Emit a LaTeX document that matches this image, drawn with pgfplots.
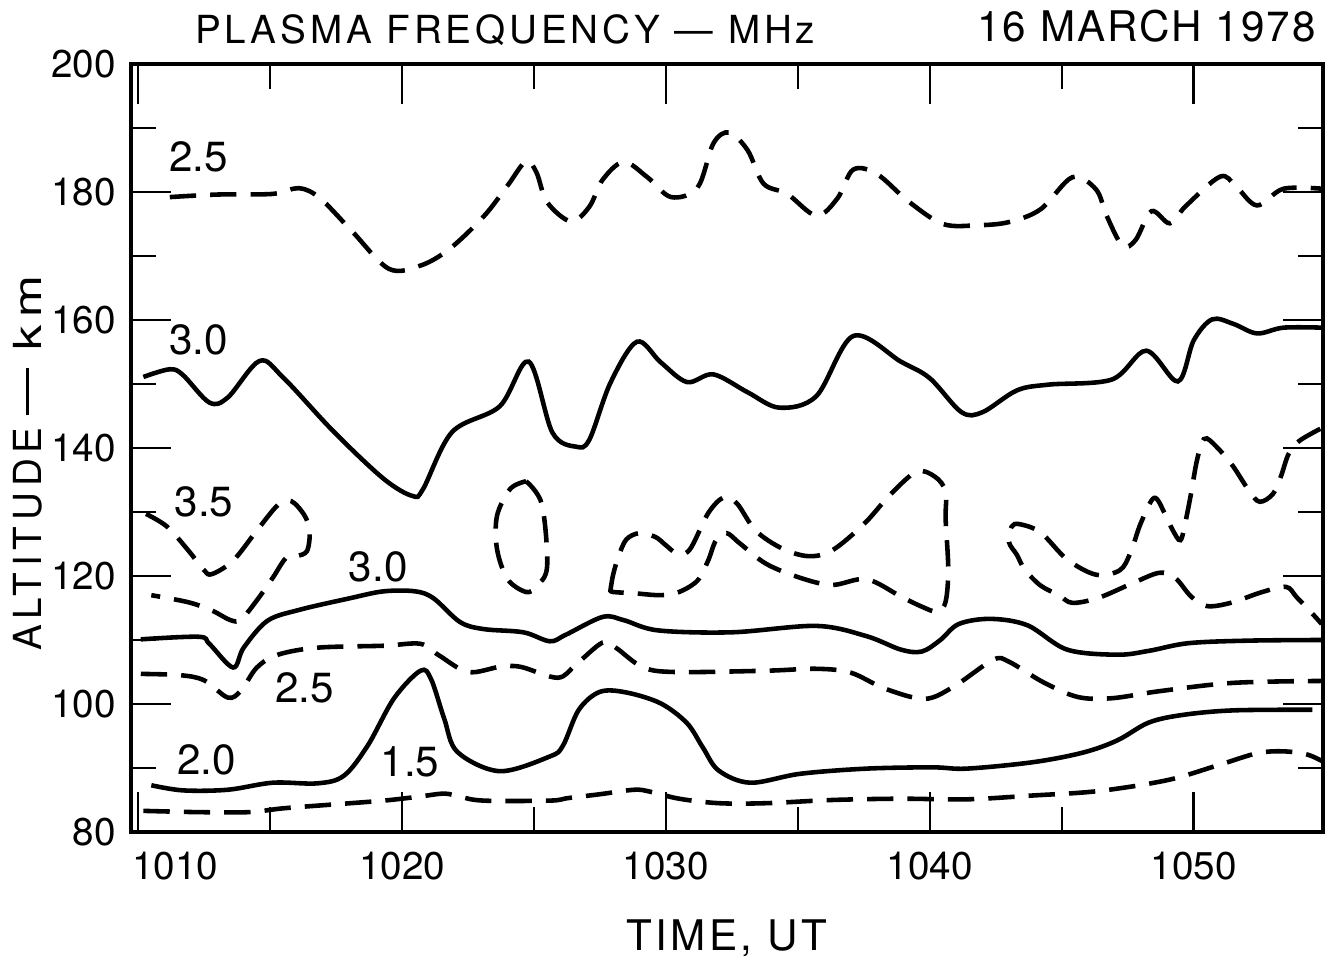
\documentclass[border=0pt]{standalone}
\usepackage{fontspec}
\setmainfont{TeX Gyre Heros}
\usepackage{graphicx}
\usepackage{pgfplots}
\pgfplotsset{compat=1.18}

% contour line styles
\pgfplotsset{
  cont/.style={black, line width=1.3pt, smooth, tension=0.55},
  dsh/.style={cont, dash pattern=on 7.5pt off 4pt},
}
\newcommand{\lbl}{\fontsize{12}{14}\selectfont}
\newcommand{\tck}{\fontsize{11}{13}\selectfont}

\begin{document}
\begin{tikzpicture}
\useasboundingbox (-1.31cm,-1.30cm) rectangle (12.02cm,8.32cm);
\begin{axis}[
  at={(0,0)}, anchor=south west,
  scale only axis, width=11.92cm, height=7.68cm,
  xmin=1009.73, xmax=1054.9, ymin=80, ymax=200,
  xtick={1010,1020,1030,1040,1050},
  xticklabels={\hspace*{7.4mm}1010,1020,1030,1040,1050},
  minor xtick={1015,1025,1035,1045},
  ytick={80,100,...,200},
  minor ytick={90,110,...,190},
  major tick length=4mm, minor tick length=2.5mm,
  tick style={black, line width=0.7pt},
  axis line style={line width=0.9pt},
  tick label style={font=\tck},
  /pgf/number format/assume math mode=true,
  xticklabel style={yshift=-0.8mm},
  yticklabel style={xshift=-0.3mm},
  xlabel={TIME, UT},
  ylabel={ALTITUDE\hspace{1.2mm}\rule[0.33em]{4.7mm}{0.9pt}\hspace{1.8mm}\scalebox{1.3}[1]{km}},
  xlabel style={at={(axis description cs:0.5,-0.138)}, anchor=center,
    font=\fontsize{12}{14}\selectfont\addfontfeature{LetterSpace=8}},
  ylabel style={at={(axis description cs:-0.0864,0.48)}, anchor=center,
    font=\fontsize{11}{13}\selectfont\addfontfeature{LetterSpace=15}},
  clip mode=individual,
]

% 2.5 MHz, upper
\addplot[dsh] coordinates {(1011.2,179.2) (1013.0,179.6) (1015.1,179.7) (1016.1,180.6) (1016.9,179.0) (1018.1,173.9) (1019.5,168.0) (1020.7,168.5) (1021.8,171.1) (1023.1,176.2) (1024.0,181.0) (1024.7,184.8) (1025.1,183.0) (1025.5,178.4) (1026.4,175.4) (1027.1,177.7) (1027.6,181.9) (1028.4,184.7) (1029.3,182.3) (1030.2,179.2) (1031.2,180.7) (1031.8,187.6) (1032.4,189.3) (1033.1,186.5) (1033.7,181.3) (1034.6,179.7) (1035.7,176.3) (1036.5,179.0) (1037.1,183.5) (1038.0,182.8) (1039.2,178.5) (1040.5,175.0) (1041.8,174.8) (1043.0,175.3) (1044.2,177.3) (1045.4,182.3) (1046.3,180.4) (1046.7,176.3) (1047.3,171.6) (1047.8,172.5) (1048.4,177.0) (1049.1,175.1) (1049.7,177.8) (1051.0,182.4) (1051.6,180.9) (1052.4,177.9) (1053.4,180.5) (1054.9,180.5)};

% 3.0 MHz, upper
\addplot[cont] coordinates {(1010.2,151.1) (1011.2,152.3) (1011.7,151.4) (1012.7,147.1) (1013.4,147.9) (1014.6,153.6) (1015.5,151.0) (1017.4,142.6) (1019.3,135.2) (1020.4,132.5) (1020.8,133.6) (1021.9,142.5) (1023.7,146.5) (1024.8,153.5) (1025.7,142.4) (1026.6,140.2) (1027.1,141.3) (1027.9,150.2) (1028.9,156.6) (1029.8,153.4) (1030.8,150.3) (1031.8,151.5) (1033.1,148.7) (1034.3,146.3) (1035.7,148.1) (1037.1,157.5) (1038.9,153.5) (1040.0,150.9) (1041.2,145.6) (1042.0,145.6) (1043.3,149.0) (1044.5,149.9) (1046.9,150.7) (1048.2,155.2) (1049.4,150.4) (1050.0,156.8) (1050.7,160.1) (1051.5,159.4) (1052.4,157.9) (1053.4,158.8) (1054.9,158.8)};

% 3.5 MHz, left
\addplot[dsh] coordinates {(1010.3,129.7) (1011.1,127.7) (1011.9,124.0) (1012.5,120.9) (1012.8,120.3) (1013.6,122.4) (1014.5,127.1) (1015.3,131.1) (1015.8,131.7) (1016.3,129.5) (1016.5,127.0) (1016.4,123.9) (1016.0,123.1) (1015.6,122.8) (1015.1,119.7) (1014.5,116.2) (1013.9,113.2) (1013.5,113.1) (1012.8,114.6) (1011.9,115.9) (1010.5,117.0)};

% 3.5 MHz, oval
\addplot[dsh] coordinates {(1024.7,134.8) (1025.3,131.2) (1025.5,121.5) (1025.1,118.4) (1024.7,117.5) (1024.0,119.5) (1023.6,124.2) (1023.6,129.4) (1024.1,133.6) (1024.7,134.8)};

% 3.5 MHz, middle
\addplot[dsh] coordinates {(1027.9,117.8) (1028.0,120.2) (1028.2,123.0) (1028.5,125.7) (1029.0,126.7) (1029.6,126.1) (1030.0,124.8) (1030.4,123.6) (1030.9,124.1) (1031.6,129.8) (1032.2,132.3) (1032.7,131.3) (1033.4,127.1) (1034.4,124.3) (1035.4,123.1) (1036.3,124.0) (1037.5,128.1) (1038.5,132.7) (1039.5,136.3) (1040.2,135.5) (1040.6,133.2) (1040.6,128.9) (1040.7,121.1) (1040.6,116.0) (1040.3,114.4) (1039.7,115.2) (1038.9,116.8) (1037.6,119.5) (1036.3,118.6) (1035.1,119.7) (1033.8,121.9) (1032.8,125.1) (1032.3,126.7) (1031.9,125.6) (1031.6,122.4) (1031.2,119.3) (1030.5,117.5) (1029.8,117.0) (1028.8,117.3) (1028.0,117.5) (1027.9,117.8)};

% 3.5 MHz, right
\addplot[dsh] coordinates {(1054.8,143.0) (1054.0,141.1) (1053.6,139.1) (1053.3,135.5) (1053.0,132.8) (1052.5,131.6) (1052.1,133.3) (1051.5,137.1) (1051.0,139.6) (1050.5,141.5) (1050.3,140.7) (1050.1,137.6) (1049.9,132.9) (1049.7,128.7) (1049.5,125.6) (1049.2,127.2) (1048.9,129.8) (1048.5,132.2) (1048.0,128.3) (1047.6,123.6) (1047.2,120.9) (1046.3,120.2) (1045.2,122.6) (1044.2,126.8) (1043.4,128.1) (1043.1,127.7) (1043.0,125.3) (1043.3,123.3) (1043.6,121.0) (1044.2,118.5) (1044.9,117.0) (1045.4,115.8) (1046.4,116.6) (1047.7,118.9) (1048.7,120.5) (1049.3,119.7) (1049.9,116.8) (1050.5,115.3) (1051.4,115.8) (1052.6,117.5) (1053.5,118.3) (1053.9,116.7) (1054.5,114.1) (1054.85,112.5)};

% 3.0 MHz, lower
\addplot[cont] coordinates {(1010.1,110.1) (1012.3,110.5) (1012.7,109.4) (1013.6,105.7) (1014.0,108.8) (1014.9,113.0) (1016.1,114.7) (1018.0,116.5) (1019.3,117.6) (1020.5,117.6) (1021.2,116.5) (1022.2,112.8) (1023.1,111.7) (1024.6,111.2) (1025.6,109.8) (1026.2,110.8) (1027.6,113.6) (1028.4,113.1) (1029.7,111.5) (1032.5,111.2) (1035.7,112.2) (1037.6,110.6) (1038.9,108.5) (1039.7,108.2) (1040.4,110.0) (1041.1,112.5) (1042.3,113.3) (1043.7,112.3) (1045.2,108.5) (1047.1,107.7) (1048.3,108.3) (1049.8,109.5) (1052.1,109.9) (1054.9,110.0)};

% 2.5 MHz, lower
\addplot[dsh] coordinates {(1010.1,104.7) (1011.6,104.5) (1012.5,103.7) (1013.4,101.0) (1013.9,102.1) (1014.5,105.7) (1015.3,107.7) (1016.8,108.8) (1019.3,109.1) (1020.7,109.4) (1021.4,107.6) (1022.5,105.0) (1023.7,105.8) (1024.5,105.8) (1025.9,104.1) (1026.6,106.2) (1027.6,109.6) (1028.1,108.8) (1029.1,105.8) (1030.3,105.0) (1033.8,105.2) (1035.7,105.5) (1037.0,104.9) (1038.3,102.4) (1039.8,100.8) (1040.9,102.7) (1042.4,106.9) (1043.0,106.6) (1044.3,103.4) (1045.6,101.1) (1046.9,100.9) (1048.7,102.0) (1051.5,103.3) (1054.9,103.6)};

% 2.0 MHz
\addplot[cont] coordinates {(1010.5,87.3) (1011.7,86.5) (1013.4,86.6) (1015.1,87.7) (1016.8,87.6) (1017.8,88.8) (1018.7,93.5) (1019.7,100.9) (1020.7,105.2) (1021.1,103.9) (1021.6,97.7) (1022.1,92.5) (1023.7,89.5) (1025.6,91.8) (1026.1,93.5) (1026.7,99.1) (1027.5,101.9) (1028.5,101.8) (1029.8,100.1) (1030.8,97.0) (1031.4,93.2) (1032.0,89.6) (1033.2,87.7) (1035.1,89.1) (1037.6,89.9) (1040.1,90.1) (1041.4,89.9) (1043.9,90.9) (1045.8,92.4) (1047.1,94.3) (1048.3,97.1) (1049.6,98.3) (1051.5,99.0) (1054.5,99.1)};

% 1.5 MHz
\addplot[dsh] coordinates {(1010.2,83.3) (1012.3,83.1) (1014.2,83.1) (1015.5,83.7) (1017.4,84.3) (1019.3,84.9) (1020.6,85.5) (1021.6,86.0) (1022.2,85.5) (1023.1,84.9) (1025.6,84.9) (1026.3,85.3) (1027.5,85.9) (1028.8,86.6) (1029.4,86.3) (1030.5,85.2) (1032.0,84.5) (1033.8,84.5) (1036.3,85.0) (1038.9,85.2) (1041.4,85.1) (1043.9,85.7) (1046.4,86.4) (1049.0,88.1) (1050.9,90.4) (1052.4,92.3) (1053.4,92.6) (1054.3,92.1) (1054.9,91.0)};

% contour values
\node[font=\lbl] at (axis cs:1012.3,185.5) {2.5};
\node[font=\lbl] at (axis cs:1012.3,156.9) {3.0};
\node[font=\lbl] at (axis cs:1012.5,131.6) {3.5};
\node[font=\lbl] at (axis cs:1019.1,121.5) {3.0};
\node[font=\lbl] at (axis cs:1016.3,102.5) {2.5};
\node[font=\lbl] at (axis cs:1012.6,91.3) {2.0};
\node[font=\lbl] at (axis cs:1020.3,91.0) {1.5};

% headings
\node[font=\fontsize{11}{13}\selectfont\addfontfeature{LetterSpace=10}]
  at (axis description cs:0.314,1.044) {PLASMA FREQUENCY — MHz};
\node[font=\fontsize{12}{14}\selectfont\addfontfeature{LetterSpace=5}]
  at (axis description cs:0.852,1.049) {16 MARCH 1978};
\end{axis}
\end{tikzpicture}
\end{document}
